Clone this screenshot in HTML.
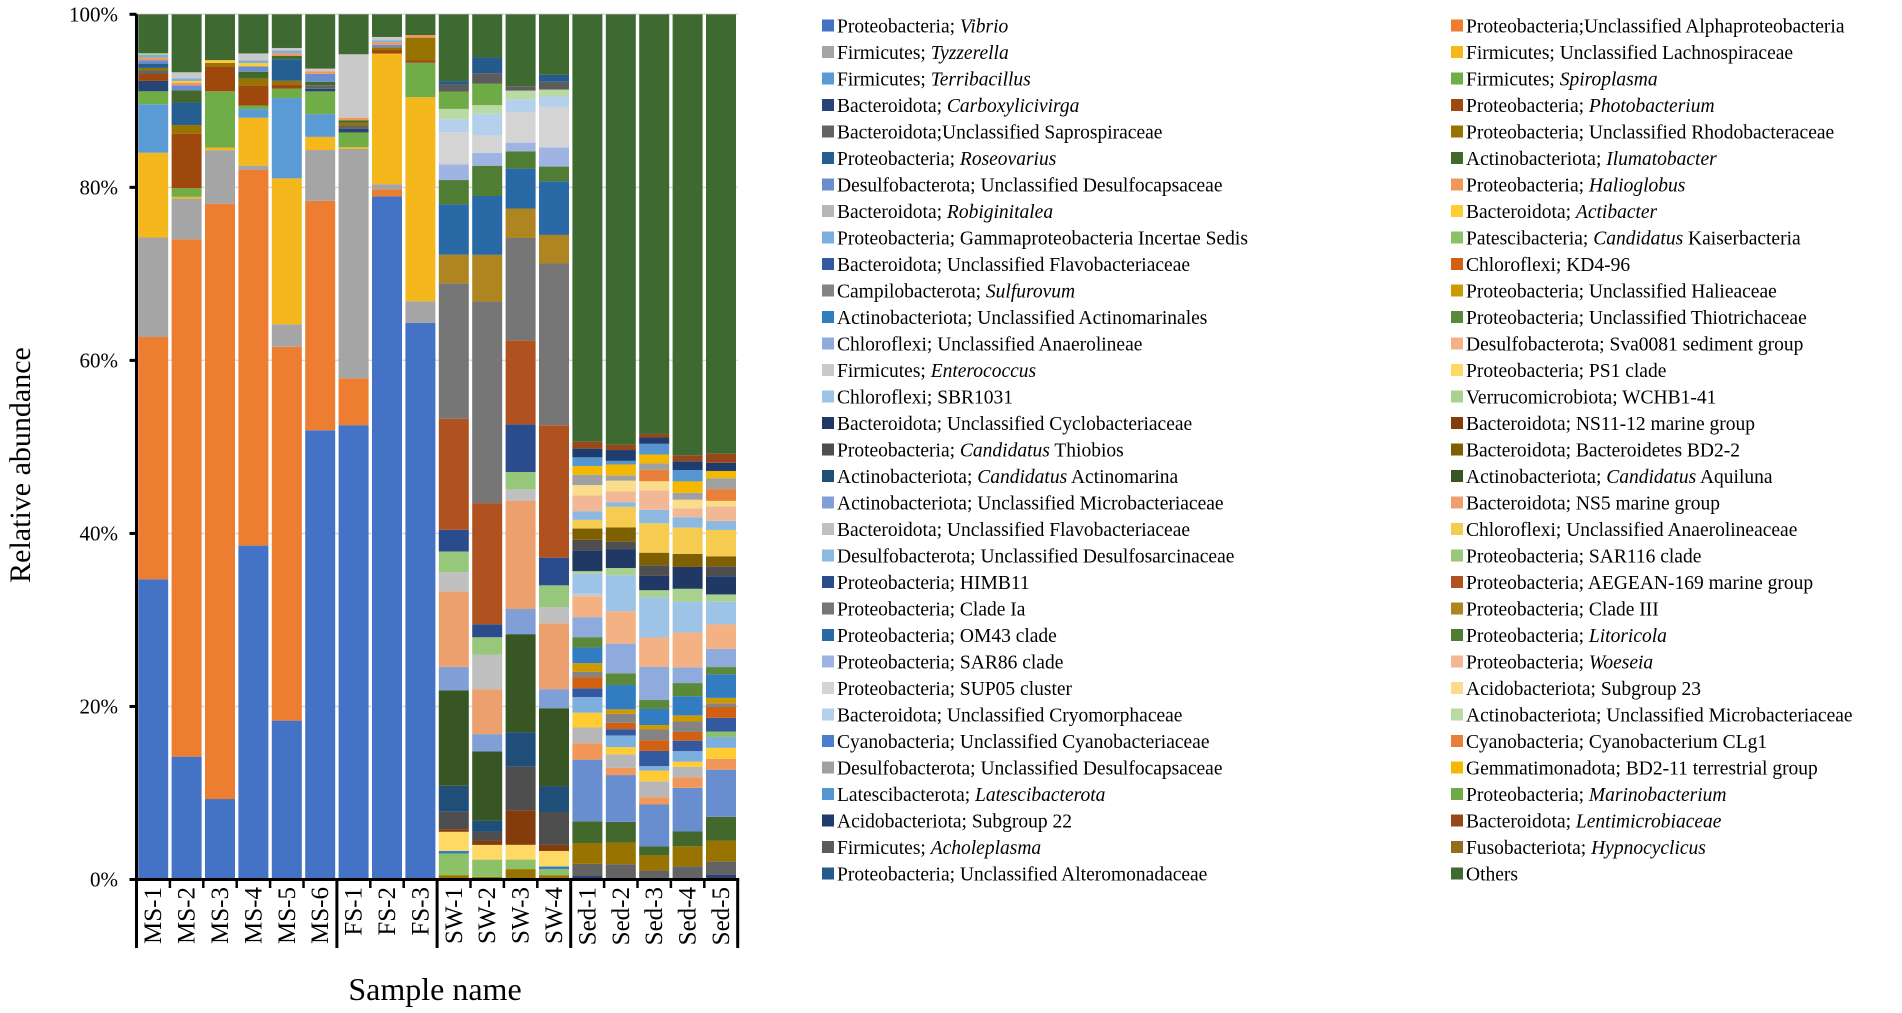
<!DOCTYPE html>
<html><head><meta charset="utf-8">
<style>
html,body{margin:0;padding:0;background:#fff;}
svg{display:block;}
svg text, svg tspan{font-family:"Liberation Serif","Times New Roman",serif;}
</style></head>
<body>
<svg id="chart" width="1902" height="1013" viewBox="0 0 1902 1013" xmlns="http://www.w3.org/2000/svg" font-family="Liberation Serif, serif"></svg>
<script>
const sampleNames = ["MS-1","MS-2","MS-3","MS-4","MS-5","MS-6","FS-1","FS-2","FS-3","SW-1","SW-2","SW-3","SW-4","Sed-1","Sed-2","Sed-3","Sed-4","Sed-5"];
const groupBreaks = [0,6,9,13,18];
const yTicks = [0,20,40,60,80,100];
const yTickLabels = ["0%","20%","40%","60%","80%","100%"];
const taxaPrefix = ["Proteobacteria; ","Proteobacteria;Unclassified Alphaproteobacteria","Firmicutes; ","Firmicutes; Unclassified Lachnospiraceae","Firmicutes; ","Firmicutes; ","Bacteroidota; ","Proteobacteria; ","Bacteroidota;Unclassified Saprospiraceae","Proteobacteria; Unclassified Rhodobacteraceae","Proteobacteria; ","Actinobacteriota; ","Desulfobacterota; Unclassified Desulfocapsaceae","Proteobacteria; ","Bacteroidota; ","Bacteroidota; ","Proteobacteria; Gammaproteobacteria Incertae Sedis","Patescibacteria; ","Bacteroidota; Unclassified Flavobacteriaceae","Chloroflexi; KD4-96","Campilobacterota; ","Proteobacteria; Unclassified Halieaceae","Actinobacteriota; Unclassified Actinomarinales","Proteobacteria; Unclassified Thiotrichaceae","Chloroflexi; Unclassified Anaerolineae","Desulfobacterota; Sva0081 sediment group","Firmicutes; ","Proteobacteria; PS1 clade","Chloroflexi; SBR1031","Verrucomicrobiota; WCHB1-41","Bacteroidota; Unclassified Cyclobacteriaceae","Bacteroidota; NS11-12 marine group","Proteobacteria; ","Bacteroidota; Bacteroidetes BD2-2","Actinobacteriota; ","Actinobacteriota; ","Actinobacteriota; Unclassified Microbacteriaceae","Bacteroidota; NS5 marine group","Bacteroidota; Unclassified Flavobacteriaceae","Chloroflexi; Unclassified Anaerolineaceae","Desulfobacterota; Unclassified Desulfosarcinaceae","Proteobacteria; SAR116 clade","Proteobacteria; HIMB11","Proteobacteria; AEGEAN-169 marine group","Proteobacteria; Clade Ia","Proteobacteria; Clade III","Proteobacteria; OM43 clade","Proteobacteria; ","Proteobacteria; SAR86 clade","Proteobacteria; ","Proteobacteria; SUP05 cluster","Acidobacteriota; Subgroup 23","Bacteroidota; Unclassified Cryomorphaceae","Actinobacteriota; Unclassified Microbacteriaceae","Cyanobacteria; Unclassified Cyanobacteriaceae","Cyanobacteria; Cyanobacterium CLg1","Desulfobacterota; Unclassified Desulfocapsaceae","Gemmatimonadota; BD2-11 terrestrial group","Latescibacterota; ","Proteobacteria; ","Acidobacteriota; Subgroup 22","Bacteroidota; ","Firmicutes; ","Fusobacteriota; ","Proteobacteria; Unclassified Alteromonadaceae","Others"];
const taxaItalic = ["Vibrio","","Tyzzerella","","Terribacillus","Spiroplasma","Carboxylicivirga","Photobacterium","","","Roseovarius","Ilumatobacter","","Halioglobus","Robiginitalea","Actibacter","","Candidatus","","","Sulfurovum","","","","","","Enterococcus","","","","","","Candidatus","","Candidatus","Candidatus","","","","","","","","","","","","Litoricola","","Woeseia","","","","","","","","","Latescibacterota","Marinobacterium","","Lentimicrobiaceae","Acholeplasma","Hypnocyclicus","",""];
const taxaSuffix = {17:" Kaiserbacteria",32:" Thiobios",34:" Actinomarina",35:" Aquiluna"};
const taxaColors = ["#4472C4","#ED7D31","#A5A5A5","#F4B81C","#5B9BD5","#70AD47","#264478","#9E480E","#636363","#997300","#255E91","#43682B","#698ED0","#F1975A","#B7B7B7","#FFCD33","#7CAFDD","#8CC168","#335AA1","#D26012","#848484","#CC9A00","#327DC2","#5A8A39","#8FAADC","#F4B183","#C9C9C9","#FFD966","#9DC3E6","#A9D18E","#203864","#843C0C","#4E4E4E","#7F6000","#1F4E79","#375623","#7F9FD6","#EBA06E","#C0C0C0","#F5CC50","#8DB8E0","#97C77A","#2B4C8C","#B0521F","#767676","#AE8520","#2869A6","#4E7D33","#9FB4E3","#F2B895","#D4D4D4","#FADD8A","#B4D0EC","#B9DAA4","#4A7FD0","#E8803A","#A0A0A0","#F5B800","#5595D0","#6EAA45","#1E3C6E","#98471A","#5C5C5C","#8F6E1E","#245A8C","#3E6A31"];
// sparse values per sample: {seriesIndex: percent}
const ms1 = {0:34.7,1:28,2:11.5,3:9.8,4:5.6,5:1.5,6:1.2,7:0.8,8:0.4,9:0.3,10:0.5,12:0.4,13:0.3,16:0.3,29:0.2,65:4.5};
const ms2 = {0:14.2,1:59.8,2:4.7,3:0.2,5:1,7:6.3,9:1,10:2.6,11:1.4,12:0.6,13:0.3,15:0.2,16:0.3,26:0.7,65:6.7};
const ms3 = {0:9.3,1:68.8,2:6.2,3:0.3,5:6.5,7:2.9,9:0.4,15:0.3,65:5.3};
const ms4 = {0:38.4,1:43.2,2:0.5,3:5.5,4:1,5:0.4,7:2.3,9:0.8,11:0.8,12:0.6,15:0.4,16:0.3,26:0.8,65:4.5};
const ms5 = {0:18.4,1:43.3,2:2.6,3:16.9,4:9.3,5:1.1,7:0.5,9:0.4,10:2.5,11:0.4,13:0.3,16:0.3,26:0.3,65:3.9};
const ms6 = {0:51.3,1:26.2,2:5.8,3:1.5,4:2.6,5:2.6,6:0.3,8:0.4,11:0.4,12:0.9,13:0.3,26:0.3,65:6.2};
const fs1 = {0:52.3,1:5.4,2:26.4,3:0.2,5:1.7,6:0.4,8:0.4,9:0.3,11:0.3,13:0.3,26:7.3,65:4.6};
const fs2 = {0:78.4,1:0.8,2:0.6,3:15,7:0.4,9:0.3,12:0.3,13:0.3,16:0.2,26:0.4,65:2.6};
const fs3 = {0:64.4,2:2.5,3:23.6,5:4,7:0.3,13:0.3,9:2.6,65:2.4};
const sw1 = {9:0.5,17:2.5,22:0.3,27:2.2,31:0.3,32:2,34:3,35:11,36:2.7,37:8.7,38:2.2,41:2.4,42:2.5,43:12.8,44:15.6,45:3.3,46:5.8,47:2.8,48:1.8,50:3.7,52:1.5,53:1.2,59:2,62:0.8,64:0.4,65:7.7};
const sw2 = {9:0.3,17:2,27:1.7,31:0.5,32:1,34:1.3,35:8,36:2,37:5.2,38:4,41:2,42:1.5,43:14,44:23.3,45:5.4,46:6.8,47:3.5,48:1.5,50:2,52:2.5,53:1,59:2.5,62:1.2,64:1.8,65:5};
const sw3 = {9:1.2,17:1.1,27:1.7,31:4,32:5,34:4,35:11.3,36:2.9,37:12.5,38:1.3,41:2,42:5.5,43:9.7,44:11.8,45:3.4,46:4.6,47:2,48:1,50:3.5,52:1.5,53:1,62:0.5,65:8.3};
const sw4 = {9:0.5,17:0.7,22:0.3,27:1.8,31:0.7,32:3.8,34:3,35:9,36:2.2,37:7.6,38:1.9,41:2.5,42:3.2,43:15.3,44:18.7,45:3.3,46:6.2,47:1.7,48:2.2,50:4.7,52:1.2,53:0.8,62:0.9,64:0.8,65:7};
const sed1 = {6:0.4,8:1.4,9:2.4,11:2.5,12:7.1,13:1.9,14:1.8,15:1.7,16:1.8,18:1,19:1.3,20:0.6,21:1,22:1.8,23:1.2,24:2.3,25:2.4,26:0.3,28:2.3,29:0.3,30:2.4,32:1.2,33:1.3,39:1,40:1,49:1.8,51:1.2,56:1.2,57:1,58:1,60:1,61:0.8,65:49.2};
const sed2 = {8:1.7,9:2.4,11:2.3,12:5.2,13:0.8,14:1.5,15:0.8,16:1.3,18:0.7,19:0.7,20:1,21:0.5,22:2.7,23:1.3,24:3.3,25:3.6,28:4,29:0.8,30:2.1,32:0.8,33:1.6,39:2.3,40:0.5,49:1.2,51:1.2,56:0.6,57:1.2,58:0.4,60:1.2,61:0.6,65:47.8};
const sed3 = {8:1,9:1.7,11:1,12:4.7,13:0.8,14:1.8,15:1.2,16:0.5,18:1.7,19:1.2,20:1.2,21:0.5,22:1.8,23:1,24:3.7,25:3.3,28:4.5,29:0.8,30:1.6,32:1.2,33:1.4,39:3.3,40:1.5,49:2.2,51:1,55:1.3,56:0.7,57:1,58:1.2,60:0.7,61:0.4,65:47};
const sed4 = {8:1.5,9:2.3,11:1.7,12:5,13:1.2,14:1.2,15:0.6,16:1.2,18:1.2,19:1,20:1.2,21:0.7,22:2.2,23:1.5,24:1.8,25:4,28:3.5,29:1.5,30:2.5,33:1.5,39:3,40:1.2,49:1,51:1,56:0.8,57:1.3,58:1.3,60:1,61:0.7,65:50.5};
const sed5 = {6:0.5,8:1.5,9:2.3,11:2.6,12:5.2,13:1.2,15:1.2,16:1.2,17:0.6,18:1.5,19:1.2,20:0.4,21:0.6,22:2.6,23:0.8,24:2,25:2.7,28:2.5,29:0.8,30:2,32:1.1,33:1.1,39:2.9,40:1,49:1.6,51:0.6,55:1.3,56:1.2,57:0.8,60:0.9,61:1,65:48.4};
const sampleValues = [ms1,ms2,ms3,ms4,ms5,ms6,fs1,fs2,fs3,sw1,sw2,sw3,sw4,sed1,sed2,sed3,sed4,sed5];

const NS="http://www.w3.org/2000/svg";
const FONT="Liberation Serif, Times New Roman, serif";
const svg=document.getElementById('chart');
const X0=136.5, SLOT=33.4, Y0=879.5, Y100=14.3;
function yScale(p){return Y0-(p/100)*(Y0-Y100);}
function xScale(i){return X0+i*SLOT;}
function mk(tag,attrs,parent){const e=document.createElementNS(NS,tag);for(const k in attrs)e.setAttribute(k,attrs[k]);if(tag==='text')e.setAttribute('font-family',FONT);(parent||svg).appendChild(e);return e;}

const grid=mk('g',{});


yTicks.forEach((t,i)=>{
  if(t>0){const l=mk('line',{x1:X0,x2:xScale(18),y1:yScale(t),y2:yScale(t),stroke:'#d9d9d9','stroke-width':1.5},grid);
  
  }
});

const bars=mk('g',{});


sampleValues.forEach((vals,i)=>{
  let total=0;for(const k in vals)total+=vals[k];
  let cum=0;
  const g=mk('g',{},bars);
  
  
  for(let s=0;s<taxaColors.length;s++){
    const v=vals[s];if(!v)continue;
    const p0=cum/total*100, p1=(cum+v)/total*100;cum+=v;
    const r=mk('rect',{x:xScale(i)+1.7,width:SLOT-3.4,y:yScale(p1),height:yScale(p0)-yScale(p1),fill:taxaColors[s]},g);
    
    
  }
});

const ax=mk('g',{});


mk('line',{x1:X0,x2:X0,y1:Y100,y2:Y0,stroke:'#000','stroke-width':3},ax);
mk('line',{x1:X0-1.5,x2:xScale(18)+1.5,y1:Y0,y2:Y0,stroke:'#000','stroke-width':3},ax);
yTicks.forEach((t,i)=>{
  mk('line',{x1:X0-7,x2:X0,y1:yScale(t),y2:yScale(t),stroke:'#000','stroke-width':3},ax);
  const tx=mk('text',{x:118,y:yScale(t)+7,'text-anchor':'end','font-size':21,fill:'#000'},ax);
  tx.textContent=yTickLabels[i];
  
  
});
for(let i=0;i<=18;i++){
  const isGroup=groupBreaks.includes(i);
  mk('line',{x1:xScale(i),x2:xScale(i),y1:Y0,y2:isGroup?948:888,stroke:'#000','stroke-width':isGroup?3:2.5},ax);
}
sampleNames.forEach((n,i)=>{
  const cx=xScale(i)+SLOT/2+8;
  const tx=mk('text',{x:0,y:0,'text-anchor':'end','font-size':25,transform:`translate(${cx},887) rotate(-90)`},ax);
  tx.textContent=n;
  
  
});
const xt=mk('text',{x:435,y:1000,'text-anchor':'middle','font-size':32},ax);
xt.textContent='Sample name';


const yt=mk('text',{x:0,y:0,'text-anchor':'middle','font-size':30,transform:'translate(30,465) rotate(-90)'},ax);
yt.textContent='Relative abundance';



const leg=mk('g',{});


taxaColors.forEach((c,s)=>{
  const col=s%2, row=Math.floor(s/2);
  const lx=col?1451:822, ly=25.5+row*26.5;
  const eg=mk('g',{},leg);
  
  
  mk('rect',{x:lx,y:ly-6,width:12,height:12,fill:c},eg);
  const t=mk('text',{x:lx+15,y:ly+7,'font-size':19.5},eg);
  const a=document.createElementNS(NS,'tspan');a.setAttribute('font-family',FONT);a.textContent=taxaPrefix[s];t.appendChild(a);
  if(taxaItalic[s]){const b=document.createElementNS(NS,'tspan');b.setAttribute('font-family',FONT);b.setAttribute('font-style','italic');b.textContent=taxaItalic[s];t.appendChild(b);}
  if(taxaSuffix[s]){const d=document.createElementNS(NS,'tspan');d.setAttribute('font-family',FONT);d.textContent=taxaSuffix[s];t.appendChild(d);}
});
</script>
</body></html>
